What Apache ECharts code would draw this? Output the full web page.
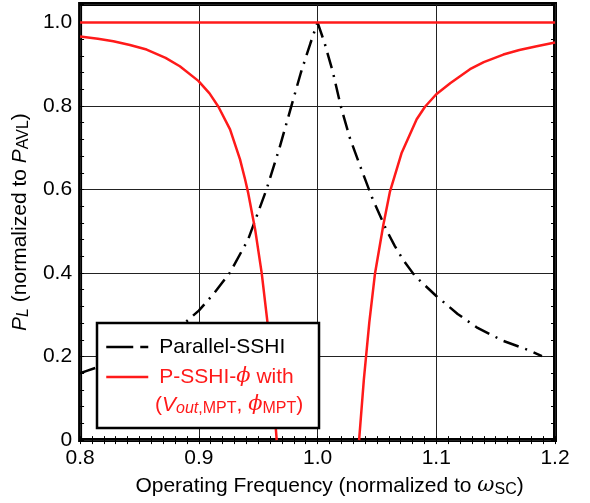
<!DOCTYPE html>
<html>
<head>
<meta charset="utf-8">
<script src="https://cdn.jsdelivr.net/npm/echarts@6/dist/echarts.min.js"></script>
<style>html,body{margin:0;padding:0;background:#fff}#c{width:590px;height:503px}</style>
</head>
<body>
<div id="c"></div>
<script>
// ---- data ----
var xTickLabels = ['0.8', '0.9', '1.0', '1.1', '1.2'];
var yTickLabels = ['0', '0.2', '0.4', '0.6', '0.8', '1.0'];

// Parallel-SSHI (black dash-dot), left and right of the peak
var parallelLeftX = [0.800, 0.805, 0.820, 0.840, 0.860, 0.880, 0.890, 0.900, 0.913, 0.926, 0.9415, 0.957, 0.968, 0.978, 0.986, 0.994, 1.000];
var parallelLeftY = [0.160, 0.165, 0.180, 0.200, 0.226, 0.262, 0.285, 0.310, 0.352, 0.400, 0.480, 0.600, 0.700, 0.800, 0.880, 0.950, 1.000];
var parallelRightX = [1.000, 1.006, 1.013, 1.0195, 1.027, 1.036, 1.046, 1.058, 1.065, 1.072, 1.082, 1.100, 1.118, 1.134, 1.156, 1.179, 1.189];
var parallelRightY = [1.000, 0.950, 0.880, 0.800, 0.725, 0.655, 0.580, 0.503, 0.465, 0.432, 0.393, 0.345, 0.302, 0.270, 0.238, 0.214, 0.201];

// P-SSHI-phi with (Vout,MPT, phiMPT) (red solid)
var flatX = [0.8, 1.2];
var flatY = [1.0, 1.0];
var leftX = [0.800, 0.815, 0.828, 0.842, 0.856, 0.872, 0.884, 0.8996, 0.909, 0.9165, 0.9263, 0.9347, 0.939, 0.9417, 0.9474, 0.953, 0.9577, 0.9617, 0.9656];
var leftY = [0.966, 0.961, 0.955, 0.946, 0.935, 0.915, 0.895, 0.860, 0.830, 0.798, 0.744, 0.672, 0.624, 0.590, 0.505, 0.399, 0.285, 0.145, 0.000];
var rightX = [1.035, 1.039, 1.0436, 1.0484, 1.0554, 1.061, 1.0709, 1.0835, 1.0905, 1.100, 1.112, 1.1284, 1.140, 1.1565, 1.170, 1.1846, 1.200];
var rightY = [0.000, 0.145, 0.282, 0.399, 0.515, 0.595, 0.688, 0.768, 0.798, 0.828, 0.855, 0.888, 0.905, 0.923, 0.934, 0.943, 0.952];

var seriesNames = ['Parallel-SSHI', 'P-SSHI-\u03d5 with'];

function pairs(xs, ys) { return xs.map(function (x, i) { return [x, ys[i]]; }); }

var FONT = 'Liberation Sans';
var FS = 21;
var RED = '#ff1a1a';
var DASHDOT = [16, 7, 2, 7];

var chart = echarts.init(document.getElementById('c'), null, { renderer: 'canvas' });

function xLabel(v) {
  var i = Math.round((v - 0.8) * 10);
  return (Math.abs(v - (0.8 + i * 0.1)) < 1e-6) ? xTickLabels[i] : '';
}
function yLabel(v) {
  var h = Math.round(v * 100);
  if (Math.abs(v * 100 - h) > 1e-4 || h % 20 !== 0 || h > 100) return '';
  return yTickLabels[h / 20];
}

var tickStyle = { color: '#000', width: 1 };

function redSeries(xs, ys) {
  return {
    name: seriesNames[1], type: 'line', xAxisIndex: 0, yAxisIndex: 0, symbol: 'none', z: 4,
    data: pairs(xs, ys),
    lineStyle: { color: RED, width: 2.5, join: 'round' }, itemStyle: { color: RED }
  };
}
function blackSeries(xs, ys) {
  return {
    name: seriesNames[0], type: 'line', xAxisIndex: 0, yAxisIndex: 0, symbol: 'none', z: 3,
    data: pairs(xs, ys),
    lineStyle: { color: '#000', width: 2.5, type: DASHDOT },
    itemStyle: { color: '#000' }
  };
}

chart.setOption({
  animation: false,
  backgroundColor: '#fff',
  textStyle: { fontFamily: FONT },
  grid: { left: 80, right: 35, top: 4, bottom: 62, show: true, borderColor: '#000', borderWidth: 4, backgroundColor: 'transparent' },
  xAxis: [
    {
      type: 'value', position: 'bottom', min: 0.8, max: 1.2, interval: 0.1,
      axisLine: { show: false },
      axisTick: { show: true, inside: true, length: 4, lineStyle: tickStyle },
      minorTick: { show: true, splitNumber: 10, length: 4, lineStyle: tickStyle },
      splitLine: { show: true, lineStyle: { color: '#222', width: 1 } },
      axisLabel: { formatter: xLabel, color: '#000', fontSize: FS, fontFamily: FONT, margin: 8 },
      name: 'Operating Frequency (normalized to {i|\u03c9}{s|SC})',
      nameLocation: 'middle', nameGap: 32,
      nameTextStyle: {
        color: '#000', fontSize: FS, fontFamily: FONT, lineHeight: 24, padding: [0, 0, 0, 24],
        rich: {
          i: { fontSize: FS, fontStyle: 'italic', fontFamily: 'DejaVu Serif', lineHeight: 24 },
          s: { fontSize: 16, lineHeight: 14, verticalAlign: 'bottom', fontFamily: FONT }
        }
      }
    },
    {
      type: 'value', position: 'top', min: 0.8, max: 1.2, interval: 0.1,
      axisLine: { show: false },
      axisTick: { show: true, inside: true, length: 4, lineStyle: tickStyle },
      minorTick: { show: true, splitNumber: 10, length: 4, lineStyle: tickStyle },
      splitLine: { show: false },
      axisLabel: { show: false }
    }
  ],
  yAxis: [
    {
      type: 'value', position: 'left', min: 0, max: 1.044, interval: 0.04,
      axisLine: { show: false },
      axisTick: { show: true, inside: true, length: 4, lineStyle: tickStyle },
      splitLine: { show: false },
      axisLabel: { formatter: yLabel, color: '#000', fontSize: FS, fontFamily: FONT, margin: 8 },
      name: '{i|P}{is|L} (normalized to {i|P}{s|AVL})',
      nameLocation: 'middle', nameGap: 38, nameRotate: 90,
      nameTextStyle: {
        color: '#000', fontSize: FS, fontFamily: FONT, lineHeight: 24,
        rich: {
          i: { fontSize: FS, fontStyle: 'italic', fontFamily: FONT, lineHeight: 24 },
          is: { fontSize: 16, fontStyle: 'italic', lineHeight: 14, verticalAlign: 'bottom', fontFamily: FONT },
          s: { fontSize: 16, lineHeight: 14, verticalAlign: 'bottom', fontFamily: FONT }
        }
      }
    },
    {
      type: 'value', position: 'right', min: 0, max: 1.044, interval: 0.04,
      axisLine: { show: false },
      axisTick: { show: true, inside: true, length: 4, lineStyle: tickStyle },
      splitLine: { show: false },
      axisLabel: { show: false }
    },
    {
      type: 'value', position: 'left', min: 0, max: 1.044, interval: 0.2,
      axisLine: { show: false }, axisTick: { show: false }, axisLabel: { show: false },
      splitLine: { show: true, lineStyle: { color: '#222', width: 1 } }
    }
  ],
  legend: {
    orient: 'vertical', left: 105, top: 335, padding: 0, itemGap: 6,
    itemWidth: 42, itemHeight: 14, z: 20, backgroundColor: 'transparent',
    selectedMode: false,
    data: [
      { name: seriesNames[0], lineStyle: { type: [27, 7, 8, 60], width: 2.5, color: '#000' }, itemStyle: { opacity: 0 }, textStyle: { color: '#000' } },
      { name: seriesNames[1], lineStyle: { width: 2.5, color: RED }, itemStyle: { opacity: 0 }, textStyle: { color: RED } }
    ],
    formatter: function (name) {
      if (name === seriesNames[1]) return 'P-SSHI-{i|\u03d5} with';
      return name;
    },
    textStyle: {
      fontSize: FS, fontFamily: FONT, lineHeight: 24, padding: [0, 0, 0, 6],
      rich: { i: { fontSize: FS, fontStyle: 'italic', fontFamily: 'DejaVu Serif', color: RED, lineHeight: 24 } }
    }
  },
  graphic: [
    {
      type: 'rect', z: 10,
      shape: { x: 97, y: 323, width: 222, height: 105 },
      style: { fill: '#fff', stroke: '#000', lineWidth: 2.5 }
    },
    {
      type: 'text', z: 21, x: 155, y: 405,
      style: {
        text: '({iv|V}{is|out}{s|,MPT}, {ip|\u03d5}{s|MPT})',
        fill: RED, font: FS + 'px "Liberation Sans"', verticalAlign: 'middle', lineHeight: 24,
        rich: {
          iv: { fontSize: FS, fontStyle: 'italic', fontFamily: FONT, fill: RED, lineHeight: 24 },
          is: { fontSize: 16, fontStyle: 'italic', fontFamily: FONT, fill: RED, lineHeight: 14, verticalAlign: 'bottom' },
          s: { fontSize: 16, fontFamily: FONT, fill: RED, lineHeight: 14, verticalAlign: 'bottom' },
          ip: { fontSize: FS, fontStyle: 'italic', fontFamily: 'DejaVu Serif', fill: RED, lineHeight: 24 }
        }
      }
    }
  ],
  series: [
    blackSeries(parallelLeftX, parallelLeftY),
    blackSeries(parallelRightX, parallelRightY),
    {
      name: seriesNames[1], type: 'line', xAxisIndex: 0, yAxisIndex: 0, symbol: 'none', z: 4,
      data: pairs(flatX, flatY),
      lineStyle: { color: RED, width: 2.5 }, itemStyle: { color: RED }
    },
    redSeries(leftX, leftY),
    redSeries(rightX, rightY)
  ]
});
</script>
</body>
</html>
